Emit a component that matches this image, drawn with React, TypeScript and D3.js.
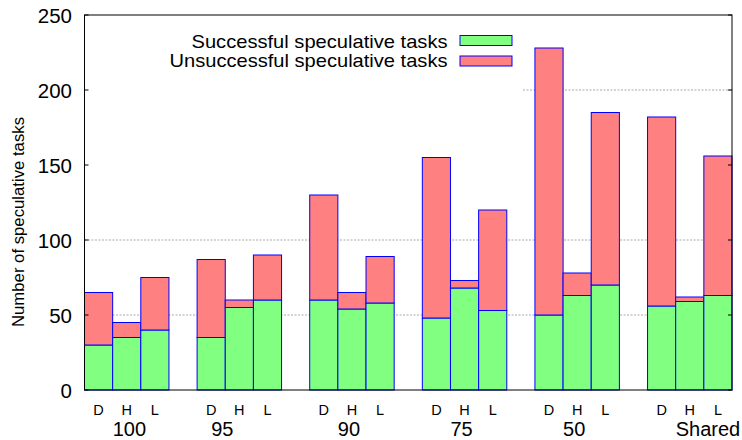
import React from "react";
import * as d3 from "d3";

const groups = ["100", "95", "90", "75", "50", "Shared"];
const variants = ["D", "H", "L"];
// successful speculative tasks per group (D, H, L)
const successful = [
  [30, 35, 40],
  [35, 55, 60],
  [60, 54, 58],
  [48, 68, 53],
  [50, 63, 70],
  [56, 59, 63],
];
// unsuccessful speculative tasks per group (D, H, L)
const unsuccessful = [
  [35, 10, 35],
  [52, 5, 30],
  [70, 11, 31],
  [107, 5, 67],
  [178, 15, 115],
  [126, 3, 93],
];
const yTicks = [0, 50, 100, 150, 200, 250];
const gridTicks = [50, 100, 200];
const seriesNames = ["Successful speculative tasks", "Unsuccessful speculative tasks"];
const groupLabelShift = [0, -0.5, 0, 0, 0, 0];

const W = 742;
const H = 440;
const left = 84.5;
const right = 732;
const top = 15;
const bottom = 390;
const FONT = "'Liberation Sans', Arial, Helvetica, sans-serif";
const GREEN = "#80ff80";
const RED = "#ff8080";
const BLUE = "#0000ff";

export default function App() {
  const x = d3.scaleLinear().domain([0, 23]).range([left, right]);
  const y = d3.scaleLinear().domain([0, 250]).range([bottom, top]);
  const slotW = x(1) - x(0);

  const bars: any[] = [];
  groups.forEach((g, gi) => {
    variants.forEach((v, vi) => {
      const slot = gi * 4 + vi;
      const s = successful[gi][vi];
      const u = unsuccessful[gi][vi];
      bars.push({ key: `${g}-${v}`, x0: x(slot), s, u, v, slot });
    });
  });

  const legendLen = [256, 278];

  return (
    <svg
      width={W}
      height={H}
      style={{ position: "absolute", left: 0, top: 0, background: "#fff" }}
      fontFamily={FONT}
    >
      <rect x={0} y={0} width={W} height={H} fill="#fff" />
      {/* grid */}
      {gridTicks.map((t) => (
        <line
          key={"g" + t}
          x1={t === 200 ? 523 : left}
          x2={right}
          y1={y(t)}
          y2={y(t)}
          stroke="#a8a8a8"
          strokeWidth={1}
          strokeDasharray="2,1.5"
        />
      ))}
      {/* bars */}
      {bars.map((b) => (
        <g key={b.key}>
          <rect
            x={b.x0}
            y={y(b.s)}
            width={slotW}
            height={y(0) - y(b.s)}
            fill={GREEN}
            stroke={BLUE}
            strokeWidth={1}
          />
          <rect
            x={b.x0}
            y={y(b.s + b.u)}
            width={slotW}
            height={y(b.s) - y(b.s + b.u)}
            fill={RED}
            stroke={BLUE}
            strokeWidth={1}
          />
          <text
            x={b.x0 + slotW / 2}
            y={414.5}
            textAnchor="middle"
            fontSize={14.5}
            fill="#000"
          >
            {b.v}
          </text>
        </g>
      ))}
      {/* frame */}
      <rect x={left} y={top} width={right - left} height={bottom - top} fill="none" stroke="#000" strokeWidth={1} />
      {/* y ticks */}
      {yTicks.map((t) => (
        <g key={"t" + t}>
          <line x1={left} x2={left + 4} y1={y(t)} y2={y(t)} stroke="#000" />
          <line x1={right - 4} x2={right} y1={y(t)} y2={y(t)} stroke="#000" />
          <text x={72} y={y(t) + 7.5} textAnchor="end" fontSize={20.5} fill="#000">
            {t}
          </text>
        </g>
      ))}
      {/* group labels */}
      {groups.map((g, gi) => (
        <text
          key={"gl" + g}
          x={x(gi * 4 + 1 + groupLabelShift[gi])}
          y={436}
          textAnchor="start"
          fontSize={20}
          fill="#000"
        >
          {g}
        </text>
      ))}
      {/* y label */}
      <text
        transform={`translate(23.5, 222) rotate(-90)`}
        textAnchor="middle"
        fontSize={16.5}
        textLength={210}
        lengthAdjust="spacingAndGlyphs"
        fill="#000"
      >
        Number of speculative tasks
      </text>
      {/* legend */}
      {seriesNames.map((n, i) => (
        <g key={n}>
          <text
            x={447.5 - legendLen[i]}
            y={47.5 + i * 19.5}
            textAnchor="start"
            fontSize={18.5}
            textLength={legendLen[i]}
            lengthAdjust="spacingAndGlyphs"
            fill="#000"
          >
            {n}
          </text>
          <rect
            x={460}
            y={35.5 + i * 20.5}
            width={52}
            height={10}
            fill={i === 0 ? GREEN : RED}
            stroke={BLUE}
            strokeWidth={1}
          />
        </g>
      ))}
    </svg>
  );
}
